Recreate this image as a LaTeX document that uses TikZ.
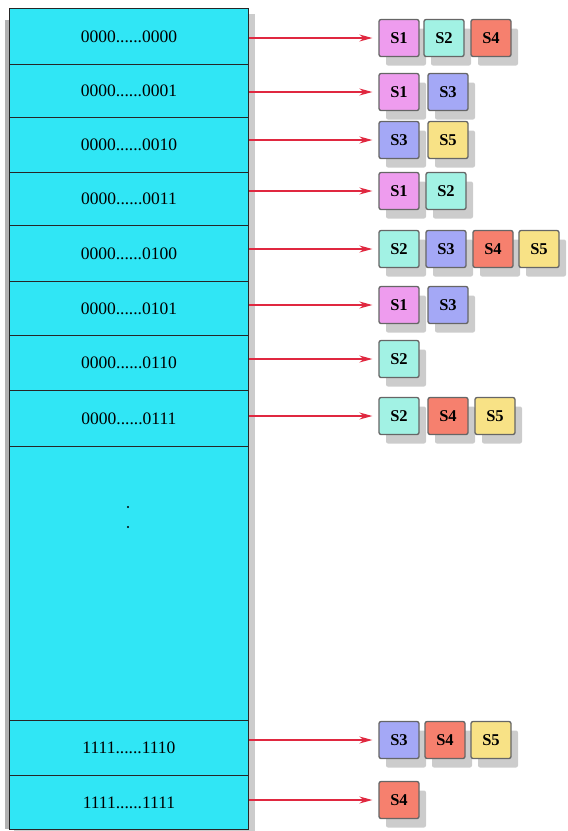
\documentclass[tikz,border=0pt]{standalone}
\usepackage{fontspec}
\setmainfont{Liberation Serif}
\usetikzlibrary{shadows,arrows.meta}
\definecolor{tablecyan}{HTML}{30E6F5}
\definecolor{cS1}{HTML}{EE9CEE}
\definecolor{cS2}{HTML}{A2F2E4}
\definecolor{cS3}{HTML}{A4A8F6}
\definecolor{cS4}{HTML}{F6806E}
\definecolor{cS5}{HTML}{F8E286}
\definecolor{linkred}{HTML}{E02840}
\tikzset{
  row/.style={draw=black!85, line width=0.9pt, fill=tablecyan, minimum width=239pt,
    inner sep=0pt, font=\fontsize{17.5}{17.5}\selectfont, anchor=north west},
  setbox/.style={draw=black!60, line width=1.3pt, rounded corners=2pt, fill=#1,
    minimum width=40pt, minimum height=37pt, inner sep=0pt,
    font=\fontsize{16.5}{16.5}\selectfont\bfseries,
    drop shadow={shadow xshift=7pt, shadow yshift=-9pt, opacity=0.2, fill=black}},
  link/.style={linkred, line width=1.3pt, -{Stealth[length=13pt,width=7pt]}, shorten >=6pt},
}
\begin{document}
\begin{tikzpicture}[x=1pt,y=-1pt]
\useasboundingbox (0,0) rectangle (568,831);
% table shadow
\fill[black,opacity=0.2] (14,14) rectangle (255,832);
\fill[black,opacity=0.3] (5,20) rectangle (9,829);
% table rows
\node[row, minimum height=56pt] (r0) at (9,8) {0000......0000};
\node[row, minimum height=53pt] (r1) at (9,64) {0000......0001};
\node[row, minimum height=55pt] (r2) at (9,117) {0000......0010};
\node[row, minimum height=53pt] (r3) at (9,172) {0000......0011};
\node[row, minimum height=56pt] (r4) at (9,225) {0000......0100};
\node[row, minimum height=54pt] (r5) at (9,281) {0000......0101};
\node[row, minimum height=55pt] (r6) at (9,335) {0000......0110};
\node[row, minimum height=56pt] (r7) at (9,390) {0000......0111};
\node[row, minimum height=274pt] (rgap) at (9,446) {};
\node[row, minimum height=55pt] (r8) at (9,720) {1111......1110};
\node[row, minimum height=54pt] (r9) at (9,775) {1111......1111};
\fill (128,507) circle (1.1pt) (128,527) circle (1.1pt);
% set boxes
\node[setbox=cS1] (a1) at (399,38) {S1};
\node[setbox=cS2] (a2) at (444,38) {S2};
\node[setbox=cS4] (a3) at (491,38) {S4};
\node[setbox=cS1] (b1) at (399,92) {S1};
\node[setbox=cS3] (b2) at (448,92) {S3};
\node[setbox=cS3] (c1) at (399,140) {S3};
\node[setbox=cS5] (c2) at (448,140) {S5};
\node[setbox=cS1] (d1) at (399,191) {S1};
\node[setbox=cS2] (d2) at (446,191) {S2};
\node[setbox=cS2] (e1) at (399,249) {S2};
\node[setbox=cS3] (e2) at (446,249) {S3};
\node[setbox=cS4] (e3) at (493,249) {S4};
\node[setbox=cS5] (e4) at (539,249) {S5};
\node[setbox=cS1] (f1) at (399,305) {S1};
\node[setbox=cS3] (f2) at (448,305) {S3};
\node[setbox=cS2] (g1) at (399,359) {S2};
\node[setbox=cS2] (h1) at (399,416) {S2};
\node[setbox=cS4] (h2) at (448,416) {S4};
\node[setbox=cS5] (h3) at (495,416) {S5};
\node[setbox=cS3] (i1) at (399,740) {S3};
\node[setbox=cS4] (i2) at (445,740) {S4};
\node[setbox=cS5] (i3) at (491,740) {S5};
\node[setbox=cS4] (j1) at (399,800) {S4};
% links
\foreach \r/\s in {r0/a1,r1/b1,r2/c1,r3/d1,r4/e1,r5/f1,r6/g1,r7/h1,r8/i1,r9/j1}
  \draw[link] (\r.east |- \s.west) -- (\s.west);
\end{tikzpicture}
\end{document}
